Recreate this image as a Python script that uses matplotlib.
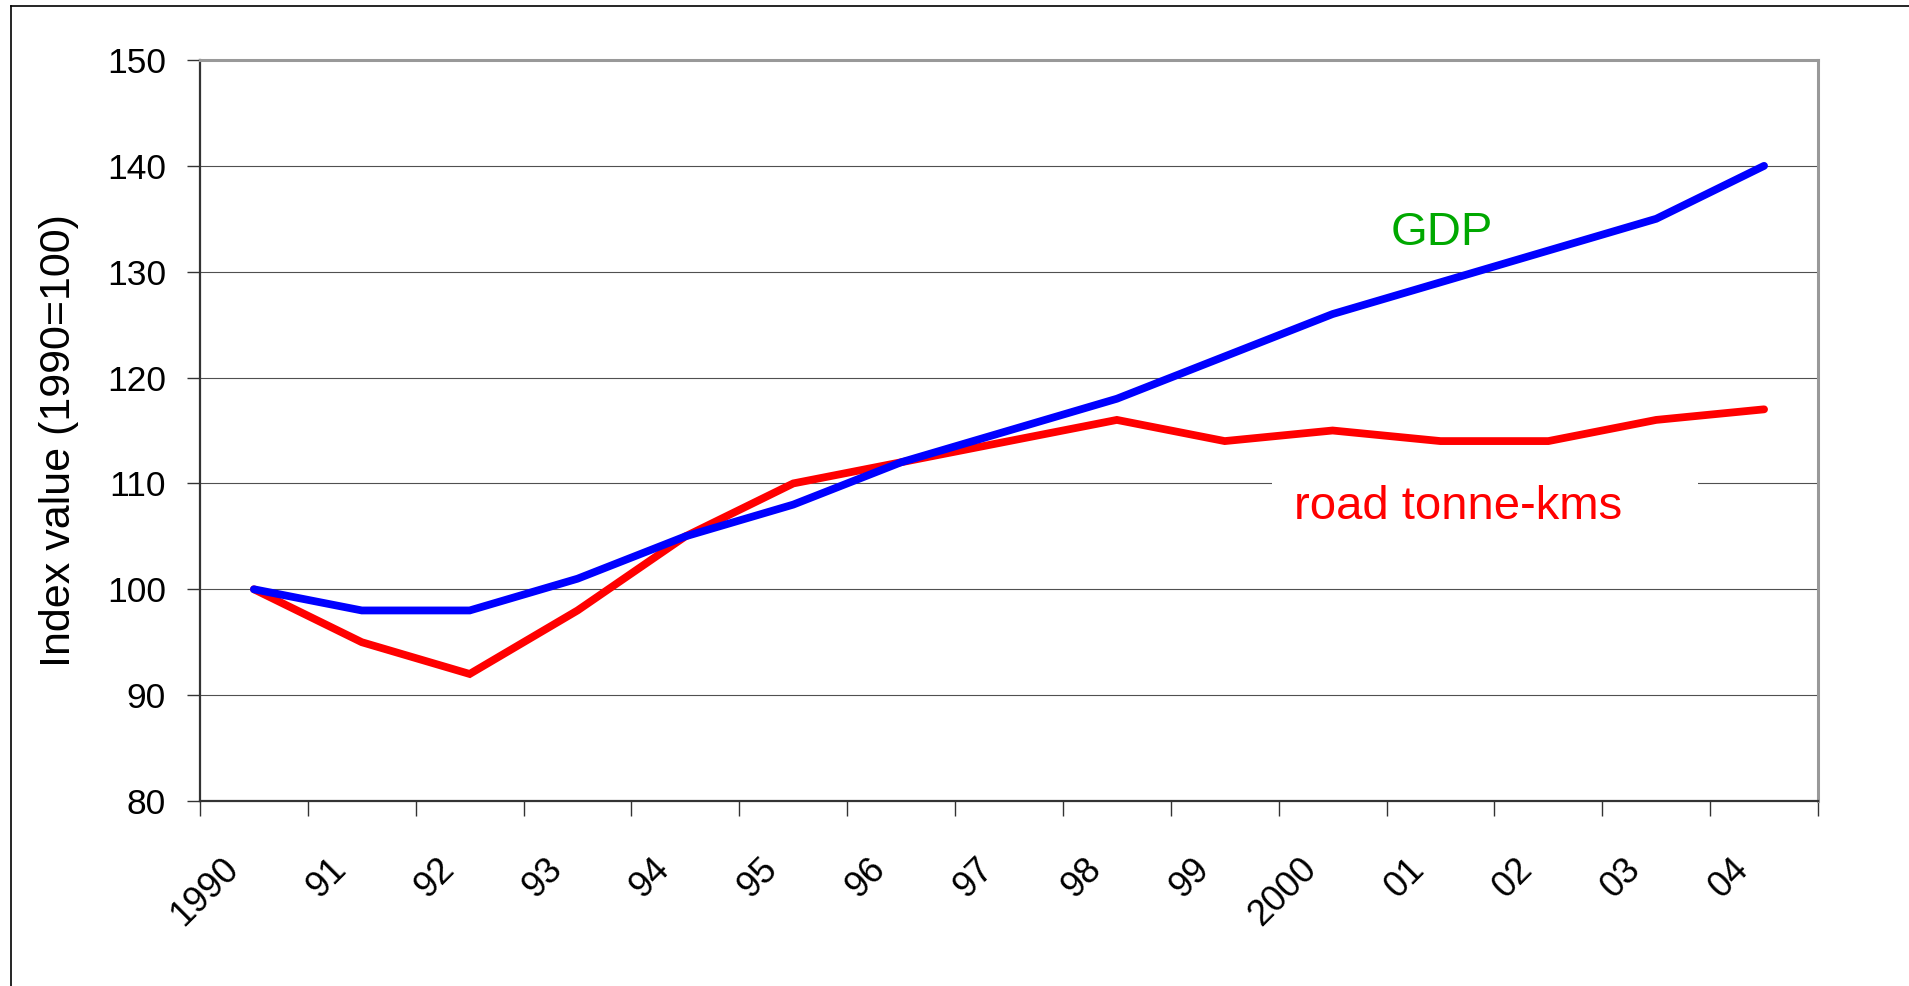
import numpy as np
import matplotlib
matplotlib.use("Agg")
import matplotlib.pyplot as plt
from matplotlib.patches import Rectangle
from matplotlib.lines import Line2D
from matplotlib.transforms import ScaledTranslation

# Index values, 1990 = 100
years = ["1990", "91", "92", "93", "94", "95", "96", "97", "98", "99",
         "2000", "01", "02", "03", "04"]
gdp = [100, 98, 98, 101, 105, 108, 112, 115, 118, 122, 126, 129, 132, 135, 140]
road_tkm = [100, 95, 92, 98, 105, 110, 112, 114, 116, 114, 115, 114, 114, 116, 117]
y_ticks = [80, 90, 100, 110, 120, 130, 140, 150]

plt.rcParams['font.family'] = ['Liberation Sans', 'DejaVu Sans']

W, H = 1909, 986
fig = plt.figure(figsize=(W / 100, H / 100), dpi=100)
fig.patch.set_facecolor('white')

# frame around the whole chart (top and left edges)
fig.add_artist(Line2D([11 / W, 11 / W], [0, 1 - 6 / H], transform=fig.transFigure,
                      color='black', lw=1.2))
fig.add_artist(Line2D([11 / W, 1], [1 - 6 / H, 1 - 6 / H], transform=fig.transFigure,
                      color='black', lw=1.2))

ax = fig.add_axes([200 / W, 1 - 801 / H, 1618 / W, 741 / H])

x = np.arange(len(years)) + 0.5
ax.plot(x, road_tkm, color='#ff0000', lw=5.6, solid_capstyle='round',
        solid_joinstyle='miter', zorder=3)
ax.plot(x, gdp, color='#0000ff', lw=5.6, solid_capstyle='round',
        solid_joinstyle='miter', zorder=4)

ax.set_xlim(0, len(years))
ax.set_ylim(y_ticks[0], y_ticks[-1])

ax.set_yticks(y_ticks)
ax.yaxis.grid(True, color='#505050', lw=0.8, zorder=0)
ax.set_axisbelow(True)

ax.set_xticks(np.arange(len(years) + 1))
ax.set_xticklabels([])
ax.set_xticks(x, minor=True)
ax.set_xticklabels(years, minor=True, rotation=45, ha='right', va='center',
                   rotation_mode='anchor', fontsize=26)
ax.tick_params(axis='x', which='major', length=10.5, width=1, color='#333333',
               direction='out')
ax.tick_params(axis='x', which='minor', length=0, pad=45)
ax.tick_params(axis='y', length=9.5, width=1, color='#333333', pad=15, labelsize=25.5)

shift = ScaledTranslation(-0.21, 0, fig.dpi_scale_trans)
for lab in ax.get_xticklabels(minor=True):
    lab.set_transform(lab.get_transform() + shift)

for side in ('left', 'bottom'):
    ax.spines[side].set_color('#333333')
    ax.spines[side].set_linewidth(1.6)
for side in ('top', 'right'):
    ax.spines[side].set_color('#999999')
    ax.spines[side].set_linewidth(2.2)

fig.text(59 / W, 1 - 441 / H, 'Index value (1990=100)', rotation=90,
         ha='center', va='center', fontsize=31)

# series labels
ax.text(11.51, 132.5, 'GDP', color='#00a800', fontsize=34,
        ha='center', va='baseline', zorder=5)
ax.add_patch(Rectangle((9.94, 106.4), 3.95, 4.6, facecolor='white',
                       edgecolor='none', zorder=2))
ax.text(11.66, 106.64, 'road tonne-kms', color='#ff0000', fontsize=34,
        ha='center', va='baseline', zorder=5)

fig.savefig('out.png', dpi=100, facecolor='white')
